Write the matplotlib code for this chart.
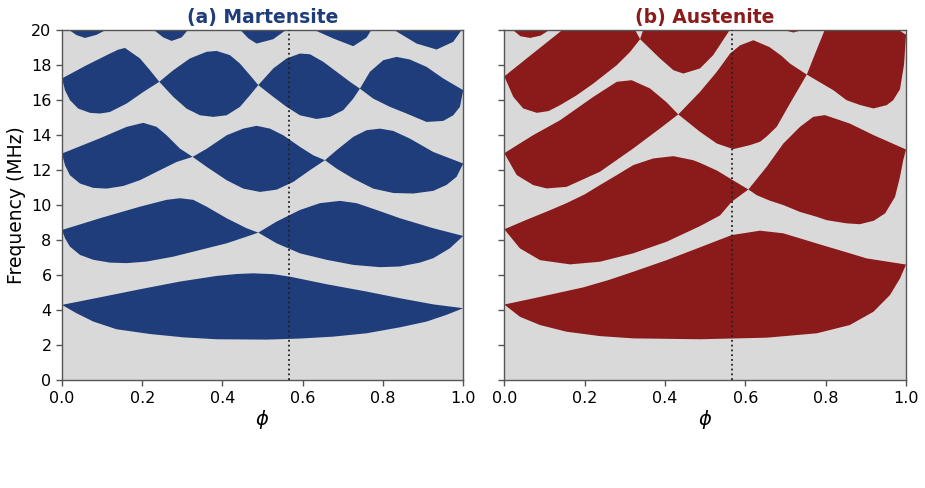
import numpy as np
import matplotlib
matplotlib.use("Agg")
import matplotlib.pyplot as plt

# ---------------- data (band-gap edges) ----------------
phi_ref = 0.567
x_ticks = [0.0, 0.2, 0.4, 0.6, 0.8, 1.0]
y_ticks = [0, 2, 4, 6, 8, 10, 12, 14, 16, 18, 20]

# ---- Martensite ----
m1_up_phi = [0, 0.0947, 0.1944, 0.294, 0.3854, 0.4352, 0.477, 0.5266, 0.568, 0.659, 0.759, 0.842, 0.925, 1.0]
m1_up_f = [4.30, 4.73, 5.19, 5.63, 5.95, 6.06, 6.10, 6.05, 5.91, 5.48, 5.06, 4.68, 4.33, 4.11]
m1_lo_phi = [0, 0.0365, 0.078, 0.136, 0.219, 0.302, 0.385, 0.51, 0.593, 0.676, 0.759, 0.842, 0.909, 0.958, 1.0]
m1_lo_f = [4.30, 3.82, 3.35, 2.91, 2.64, 2.45, 2.34, 2.32, 2.38, 2.49, 2.68, 3.02, 3.35, 3.73, 4.11]

m2_up_phi = [0, 0.0947, 0.1944, 0.2608, 0.294, 0.3272, 0.3605, 0.4103, 0.4601, 0.4892,
             0.5349, 0.593, 0.6429, 0.6927, 0.7342, 0.7841, 0.8422, 0.9252, 1.0]
m2_up_f = [8.57, 9.24, 9.90, 10.29, 10.38, 10.29, 9.90, 9.24, 8.67, 8.42,
           9.05, 9.71, 10.10, 10.23, 10.10, 9.71, 9.24, 8.67, 8.23]
m2_lo_phi = [0, 0.0075, 0.0199, 0.0449, 0.0781, 0.1196, 0.1611, 0.211, 0.2774, 0.3439, 0.4103, 0.4601,
             0.4892, 0.5349, 0.593, 0.6595, 0.7259, 0.7924, 0.8422, 0.892, 0.9252, 0.9668, 1.0]
m2_lo_f = [8.57, 8.10, 7.62, 7.15, 6.87, 6.71, 6.68, 6.77, 7.05, 7.43, 7.81, 8.19,
           8.42, 7.81, 7.24, 6.87, 6.58, 6.45, 6.49, 6.71, 6.96, 7.53, 8.23]

m3_up_phi = [0, 0.0947, 0.1611, 0.2027, 0.2359, 0.2608, 0.294, 0.3256, 0.3605, 0.4103, 0.4518, 0.485,
             0.5183, 0.5515, 0.593, 0.6262, 0.6553, 0.6844, 0.7259, 0.7591, 0.7924, 0.8256, 0.8671, 0.9252, 1.0]
m3_up_f = [12.93, 13.80, 14.45, 14.68, 14.45, 13.97, 13.21, 12.74, 13.20, 13.97, 14.35, 14.51,
           14.35, 13.97, 13.31, 12.83, 12.55, 13.12, 13.88, 14.26, 14.35, 14.22, 13.78, 13.02, 12.36]
m3_lo_phi = [0, 0.0075, 0.0199, 0.0449, 0.0781, 0.1113, 0.1528, 0.1944, 0.2442, 0.2857, 0.3256, 0.3605,
             0.4103, 0.4518, 0.4934, 0.5349, 0.5764, 0.6179, 0.6553, 0.6844, 0.7259, 0.7757, 0.8256,
             0.8754, 0.9252, 0.9585, 0.9834, 1.0]
m3_lo_f = [12.93, 12.26, 11.69, 11.22, 10.97, 10.93, 11.08, 11.41, 11.98, 12.45, 12.74, 12.17,
           11.41, 10.93, 10.74, 10.87, 11.31, 11.98, 12.55, 12.07, 11.50, 10.93, 10.68,
           10.65, 10.80, 11.14, 11.60, 12.36]

m4_up_phi = [0, 0.06, 0.1196, 0.14, 0.157, 0.1944, 0.2193, 0.2425, 0.2774, 0.3189, 0.3605, 0.3854, 0.4186,
             0.4435, 0.4684, 0.4892, 0.5266, 0.5598, 0.593, 0.6179, 0.6512, 0.6844, 0.7176, 0.7425,
             0.7674, 0.8007, 0.8339, 0.8671, 0.9086, 0.9502, 1.0]
m4_up_f = [17.21, 17.95, 18.63, 18.85, 18.95, 18.35, 17.68, 17.02, 17.68, 18.35, 18.73, 18.78, 18.54,
           18.06, 17.40, 16.83, 17.78, 18.35, 18.63, 18.59, 18.16, 17.59, 17.02, 16.63,
           17.59, 18.25, 18.44, 18.29, 17.87, 17.21, 16.54]
m4_lo_phi = [0, 0.0075, 0.0199, 0.0407, 0.0698, 0.0947, 0.1196, 0.1611, 0.2027, 0.2425, 0.2774, 0.3106,
             0.3439, 0.3771, 0.4103, 0.4435, 0.4684, 0.4892, 0.5266, 0.5598, 0.593, 0.6346, 0.6678,
             0.701, 0.7259, 0.7425, 0.7757, 0.8173, 0.8588, 0.9086, 0.9502, 0.9751, 0.9917, 1.0]
m4_lo_f = [17.21, 16.54, 15.97, 15.49, 15.25, 15.21, 15.30, 15.78, 16.44, 17.02, 16.16, 15.49,
           15.11, 15.02, 15.11, 15.59, 16.25, 16.83, 16.16, 15.59, 15.11, 14.90, 15.02,
           15.40, 16.06, 16.63, 16.06, 15.59, 15.21, 14.73, 14.79, 15.11, 15.59, 16.54]

m5_up_phi = [0, 0.05, 0.95, 1.0]
m5_up_f = [21.5, 22.5, 22.5, 20.55]
m5_lo_phi = [0, 0.0158, 0.0365, 0.0573, 0.0864, 0.1113, 0.17, 0.2276, 0.2525, 0.2733, 0.2982, 0.3148,
             0.38, 0.4435, 0.4643, 0.485, 0.5266, 0.5598, 0.595, 0.6262, 0.6761, 0.7259, 0.7591,
             0.7716, 0.80, 0.8256, 0.8837, 0.9336, 0.9751, 0.9958, 1.0]
m5_lo_f = [21.5, 20.0, 19.68, 19.52, 19.70, 20.0, 21.0, 20.0, 19.55, 19.35, 19.55, 20.0,
           20.9, 20.0, 19.50, 19.20, 19.45, 20.0, 20.8, 20.0, 19.49, 19.05, 19.54,
           20.0, 20.7, 20.0, 19.20, 18.86, 19.30, 19.97, 20.55]

# ---- Austenite ----
a1_up_phi = [0, 0.072, 0.197, 0.26, 0.321, 0.404, 0.487, 0.566, 0.6365, 0.6946, 0.778, 0.86, 0.902, 1.0]
a1_up_f = [4.32, 4.67, 5.30, 5.72, 6.19, 6.85, 7.58, 8.28, 8.53, 8.38, 7.80, 7.24, 6.95, 6.60]
a1_lo_phi = [0, 0.039, 0.089, 0.155, 0.238, 0.321, 0.487, 0.653, 0.778, 0.86, 0.919, 0.96, 0.985, 1.0]
a1_lo_f = [4.32, 3.62, 3.15, 2.77, 2.52, 2.39, 2.34, 2.43, 2.68, 3.15, 3.91, 4.86, 5.81, 6.60]

a2_up_phi = [0, 0.05, 0.114, 0.155, 0.2, 0.238, 0.28, 0.321, 0.371, 0.421, 0.47, 0.487, 0.53, 0.566,
             0.6075, 0.653, 0.6946, 0.736, 0.769, 0.798, 0.86, 0.919, 1.0]
a2_up_f = [8.61, 9.10, 9.70, 10.10, 10.60, 11.13, 11.70, 12.27, 12.65, 12.78, 12.55, 12.40, 11.95, 11.45,
           10.88, 12.17, 13.50, 14.45, 15.02, 15.12, 14.64, 13.98, 13.16]
a2_lo_phi = [0, 0.039, 0.089, 0.1636, 0.238, 0.321, 0.404, 0.487, 0.537, 0.566, 0.6075,
             0.628, 0.66, 0.6946, 0.736, 0.778, 0.8025, 0.852, 0.885, 0.92, 0.948, 0.9726, 0.985, 0.993, 1.0]
a2_lo_f = [8.61, 7.52, 6.85, 6.61, 6.76, 7.24, 7.90, 8.79, 9.40, 10.18, 10.88,
           10.56, 10.25, 9.99, 9.60, 9.32, 9.13, 8.95, 8.90, 9.10, 9.52, 10.46, 11.60, 12.55, 13.16]

a3_up_phi = [0, 0.072, 0.139, 0.2216, 0.28, 0.317, 0.3627, 0.404, 0.433, 0.487, 0.529, 0.562, 0.587,
             0.62, 0.66, 0.69, 0.711, 0.753, 0.775, 0.798, 0.9, 0.98, 1.0]
a3_up_f = [12.95, 13.98, 14.83, 16.16, 17.02, 17.11, 16.64, 15.85, 15.16, 16.44, 17.59, 18.63, 19.10,
           19.39, 19.00, 18.50, 18.06, 17.43, 18.70, 20.0, 20.8, 20.0, 19.70]
a3_lo_phi = [0, 0.031, 0.072, 0.1056, 0.155, 0.238, 0.321, 0.3876, 0.433, 0.487, 0.529, 0.57, 0.6117,
             0.6365, 0.653, 0.678, 0.711, 0.753, 0.819, 0.852, 0.885, 0.919, 0.952, 0.968, 0.985, 0.995, 1.0]
a3_lo_f = [12.95, 11.70, 11.13, 10.94, 11.03, 11.89, 13.22, 14.36, 15.16, 14.17, 13.50, 13.18, 13.41,
           13.60, 13.90, 14.45, 15.78, 17.43, 16.54, 15.97, 15.70, 15.50, 15.69, 15.97, 16.60, 18.0, 19.70]

a4_up_phi = [0, 0.072, 0.146, 0.2, 0.28, 0.325, 0.338, 0.346, 0.42, 0.64, 0.85, 1.0]
a4_up_f = [17.33, 18.65, 20.0, 20.6, 20.6, 20.0, 19.45, 20.0, 21.5, 21.2, 23.5, 26.3]
a4_lo_phi = [0, 0.0224, 0.047, 0.081, 0.11, 0.139, 0.18, 0.2216, 0.28, 0.313, 0.338, 0.3876, 0.421,
             0.4456, 0.487, 0.52, 0.562, 0.62, 0.69, 0.72, 0.745, 0.85, 1.0]
a4_lo_f = [17.33, 16.16, 15.50, 15.25, 15.35, 15.69, 16.25, 16.92, 17.97, 18.72, 19.45, 18.35, 17.68,
           17.49, 17.78, 18.54, 20.0, 20.8, 20.0, 19.83, 20.0, 22.5, 26.3]

a5_up_phi = [0, 0.05, 1.0]
a5_up_f = [21.5, 22.3, 32.9]
a5_lo_phi = [0, 0.02, 0.04, 0.064, 0.09, 0.114, 0.15, 1.0]
a5_lo_f = [21.5, 20.0, 19.62, 19.52, 19.65, 20.0, 20.6, 32.9]

martensite_gaps = [(m1_up_phi, m1_up_f, m1_lo_phi, m1_lo_f),
                   (m2_up_phi, m2_up_f, m2_lo_phi, m2_lo_f),
                   (m3_up_phi, m3_up_f, m3_lo_phi, m3_lo_f),
                   (m4_up_phi, m4_up_f, m4_lo_phi, m4_lo_f),
                   (m5_up_phi, m5_up_f, m5_lo_phi, m5_lo_f)]
austenite_gaps = [(a1_up_phi, a1_up_f, a1_lo_phi, a1_lo_f),
                  (a2_up_phi, a2_up_f, a2_lo_phi, a2_lo_f),
                  (a3_up_phi, a3_up_f, a3_lo_phi, a3_lo_f),
                  (a4_up_phi, a4_up_f, a4_lo_phi, a4_lo_f),
                  (a5_up_phi, a5_up_f, a5_lo_phi, a5_lo_f)]

titles = ["(a) Martensite", "(b) Austenite"]
colors = ["#1f3d7a", "#8b1a1a"]

# ---------------- figure ----------------
fig = plt.figure(figsize=(9.25, 4.88), dpi=100)
ax1 = fig.add_axes([0.0670, 0.2207, 0.4338, 0.7188])
ax2 = fig.add_axes([0.5452, 0.2207, 0.4343, 0.7188], sharey=ax1)

edge = "#555555"
for ax, gaps, title, col in zip([ax1, ax2], [martensite_gaps, austenite_gaps], titles, colors):
    ax.set_facecolor("#d9d9d9")
    for up_phi, up_f, lo_phi, lo_f in gaps:
        xs = np.r_[np.asarray(up_phi), np.asarray(lo_phi)[::-1]]
        ys = np.r_[np.asarray(up_f), np.asarray(lo_f)[::-1]]
        ax.fill(xs, ys, color=col, lw=0, zorder=2)
    ax.axvline(phi_ref, color="#222222", ls=":", lw=1.3, zorder=3)
    ax.set_xlim(0, 1)
    ax.set_ylim(0, 20)
    ax.set_xticks(x_ticks)
    ax.set_yticks(y_ticks)
    ax.tick_params(axis="both", labelsize=11.5, color=edge, length=4, width=1)
    for s in ax.spines.values():
        s.set_color(edge)
        s.set_linewidth(1.0)
    ax.set_title(title, color=col, fontsize=13.5, fontweight="bold", pad=5)
    ax.set_xlabel(r"$\phi$", fontsize=14, labelpad=2)

ax1.set_ylabel("Frequency (MHz)", fontsize=13.5, labelpad=4)
plt.setp(ax2.get_yticklabels(), visible=False)

fig.savefig("out.png", dpi=100, facecolor="white")
